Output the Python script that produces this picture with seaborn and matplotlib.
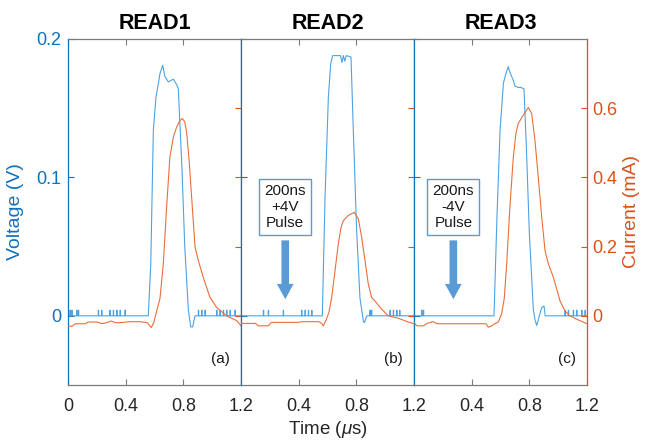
import matplotlib
matplotlib.use("Agg")
import matplotlib.pyplot as plt
import seaborn as sns

sns.set_theme(style="white")
plt.rcParams['font.family'] = ['Liberation Sans', 'DejaVu Sans']
plt.rcParams['mathtext.fontset'] = 'custom'
plt.rcParams['mathtext.it'] = 'Liberation Sans:italic'

# ---- data ---------------------------------------------------------------
panel_titles = ["READ1", "READ2", "READ3"]
panel_tags = ["(a)", "(b)", "(c)"]

# READ1
v1_t = [0, 0.557, 0.574, 0.592, 0.61, 0.627, 0.638, 0.657, 0.672, 0.696, 0.731, 0.754, 0.765,
        0.789, 0.81, 0.835, 0.851, 0.865, 0.881, 1.2]
v1_v = [0, 0, 0.037, 0.134, 0.158, 0.168, 0.175, 0.181, 0.173, 0.169, 0.171, 0.167, 0.164,
        0.11, 0.05, 0.004, -0.008, -0.008, 0, 0]
v1_blips = [0.014, 0.026, 0.06, 0.072, 0.21, 0.233, 0.29, 0.314, 0.338, 0.361, 0.395,
            0.904, 0.927, 0.95, 1.031, 1.054, 1.077, 1.1, 1.124, 1.158]
i1_t = [0, 0.03, 0.05, 0.12, 0.14, 0.2, 0.23, 0.25, 0.3, 0.33, 0.36, 0.43, 0.5, 0.55, 0.578,
        0.595, 0.615, 0.638, 0.661, 0.685, 0.707, 0.731, 0.754, 0.777, 0.795, 0.81, 0.823,
        0.84, 0.858, 0.881, 0.904, 0.939, 0.985, 1.031, 1.1, 1.17, 1.2]
i1_i = [-0.03, -0.03, -0.023, -0.023, -0.018, -0.018, -0.022, -0.022, -0.015, -0.02, -0.02,
        -0.017, -0.017, -0.02, -0.034, -0.02, 0.014, 0.05, 0.15, 0.32, 0.46, 0.517, 0.546,
        0.565, 0.57, 0.56, 0.53, 0.45, 0.34, 0.2, 0.16, 0.11, 0.053, 0.024, 0.0, -0.014, -0.029]

# READ2
v2_t = [0, 0.564, 0.583, 0.606, 0.622, 0.636, 0.69, 0.70, 0.71, 0.72, 0.73, 0.763, 0.779,
        0.802, 0.825, 0.849, 0.856, 0.872, 1.2]
v2_v = [0, 0, 0.086, 0.158, 0.182, 0.188, 0.188, 0.183, 0.188, 0.184, 0.188, 0.187, 0.134,
        0.062, 0.013, -0.004, -0.005, 0, 0]
v2_blips = [0.155, 0.189, 0.293, 0.42, 0.444, 0.467, 0.49, 0.894, 0.905, 1.033, 1.056, 1.08, 1.1]
i2_t = [0, 0.1, 0.12, 0.19, 0.21, 0.40, 0.42, 0.54, 0.56, 0.571, 0.59, 0.61, 0.629, 0.652,
        0.675, 0.694, 0.71, 0.744, 0.786, 0.814, 0.837, 0.86, 0.883, 0.906, 0.929, 0.976,
        1.022, 1.091, 1.16, 1.2]
i2_i = [-0.022, -0.022, -0.029, -0.029, -0.019, -0.019, -0.017, -0.017, -0.022, -0.029,
        -0.012, 0.01, 0.053, 0.13, 0.208, 0.256, 0.275, 0.29, 0.299, 0.28, 0.227, 0.16,
        0.092, 0.053, 0.043, 0.019, 0.0, -0.007, -0.018, -0.023]

# READ3
v3_t = [0, 0.555, 0.575, 0.597, 0.62, 0.64, 0.654, 0.665, 0.689, 0.70, 0.723, 0.74, 0.763,
        0.78, 0.80, 0.828, 0.84, 0.851, 0.862, 0.875, 0.886, 0.902, 0.91, 1.2]
v3_v = [0, 0, 0.07, 0.134, 0.168, 0.176, 0.18, 0.176, 0.17, 0.166, 0.165, 0.165, 0.164,
        0.12, 0.06, 0.004, -0.003, -0.007, -0.003, 0.002, 0.006, 0.007, 0, 0]
v3_blips = [0.053, 0.065, 1.047, 1.07, 1.105, 1.128, 1.163, 1.186]
i3_t = [0, 0.02, 0.065, 0.09, 0.134, 0.16, 0.5, 0.515, 0.535, 0.56, 0.585, 0.608, 0.626,
        0.643, 0.666, 0.689, 0.707, 0.723, 0.758, 0.793, 0.816, 0.839, 0.862, 0.886, 0.909,
        0.932, 0.967, 1.013, 1.047, 1.082, 1.12, 1.151, 1.2]
i3_i = [-0.02, -0.029, -0.029, -0.022, -0.017, -0.023, -0.023, -0.033, -0.03, -0.023,
        -0.018, 0.006, 0.05, 0.15, 0.32, 0.459, 0.527, 0.556, 0.58, 0.602, 0.585, 0.507,
        0.40, 0.285, 0.188, 0.15, 0.111, 0.043, 0.014, 0.0, -0.008, -0.014, -0.023]

blip_height = 0.004
pulse_labels = [None, "200ns\n+4V\nPulse", "200ns\n-4V\nPulse"]
pulse_x = [None, 0.307, 0.273]

voltage_ticks = [0, 0.1, 0.2]
current_ticks = [0, 0.2, 0.4, 0.6]

# ---- styling --------------------------------------------------------------
BLUE = "#0F72BD"
VLINE = "#4DA3E2"
ORANGE = "#D95319"
ILINE = "#EA6E3C"
ARROW = "#5B9BD5"
GRAY = "#7a7a7a"


def add_blips(t, v, blips, h=blip_height, w=0.0025):
    """Overlay the short quantisation blips seen on the flat baseline."""
    pts = list(zip(t, v))
    for b in blips:
        pts += [(b, 0.0), (b + 1e-4, h), (b + w, h), (b + w + 1e-4, 0.0)]
    pts.sort(key=lambda p: p[0])
    return [p[0] for p in pts], [p[1] for p in pts]


volt = [add_blips(v1_t, v1_v, v1_blips), add_blips(v2_t, v2_v, v2_blips),
        add_blips(v3_t, v3_v, v3_blips)]
curr = [(i1_t, i1_i), (i2_t, i2_i), (i3_t, i3_i)]

fig = plt.figure(figsize=(6.49, 4.40), dpi=100)
left, right, bottom, top = 68 / 649, 587 / 649, 1 - 385 / 440, 1 - 39 / 440
w = (right - left) / 3

for k in range(3):
    ax = fig.add_axes([left + k * w, bottom, w, top - bottom])
    ax2 = ax.twinx()

    sns.lineplot(x=volt[k][0], y=volt[k][1], ax=ax, color=VLINE, lw=0.8,
                 estimator=None, sort=False)
    sns.lineplot(x=curr[k][0], y=curr[k][1], ax=ax2, color=ILINE, lw=0.8,
                 estimator=None, sort=False)

    ax.set_xlim(0, 1.2)
    ax.set_ylim(-0.05, 0.2)
    ax2.set_ylim(-0.2, 0.8)

    ax.set_xticks([0, 0.4, 0.8, 1.2] if k == 0 else [0.4, 0.8, 1.2])
    ax.set_xticklabels(["0", "0.4", "0.8", "1.2"] if k == 0 else ["0.4", "0.8", "1.2"])
    ax.set_yticks(voltage_ticks)
    ax.set_yticklabels(["0", "0.1", "0.2"])
    ax2.set_yticks(current_ticks)
    ax2.set_yticklabels(["0", "0.2", "0.4", "0.6"])

    ax.tick_params(axis="x", direction="in", length=4, width=0.8, color=GRAY,
                   top=True, bottom=True, labelsize=13, labelcolor="#262626", pad=9)
    ax.tick_params(axis="y", direction="in", length=4, width=0.8, color=BLUE,
                   labelsize=13, labelcolor=BLUE, pad=5, labelleft=(k == 0))
    ax2.tick_params(axis="y", direction="in", length=4, width=0.8, color=ORANGE,
                    labelsize=13, labelcolor=ORANGE, pad=4, labelright=(k == 2))

    for s in ax2.spines.values():
        s.set_visible(False)
    ax.spines["top"].set_color(GRAY)
    ax.spines["bottom"].set_color(GRAY)
    ax.spines["left"].set_color(BLUE)
    ax.spines["right"].set_color(ORANGE if k == 2 else BLUE)
    for s in ax.spines.values():
        s.set_linewidth(0.9)
        s.set_visible(True)

    ax.set_xlabel("")
    ax.set_ylabel("")
    ax2.set_ylabel("")
    ax.set_title(panel_titles[k], fontsize=15.5, fontweight="bold", pad=7, color="black")
    ax.text(1.06, -0.031, panel_tags[k], ha="center", va="center", fontsize=11, color="#1a1a1a")

    if pulse_labels[k]:
        ax.text(pulse_x[k], 0.0786, pulse_labels[k], ha="center", va="center",
                fontsize=11, color="#1a1a1a", linespacing=1.15,
                bbox=dict(boxstyle="square,pad=0.35", fc="white", ec=ARROW, lw=1.0))
        ax.annotate("", xy=(pulse_x[k], 0.012), xytext=(pulse_x[k], 0.0545),
                    arrowprops=dict(arrowstyle="simple,head_width=1.2,head_length=1.1,tail_width=0.55",
                                    color=ARROW, lw=0, mutation_scale=10, shrinkA=0, shrinkB=0))

    if k == 0:
        ax.set_ylabel("Voltage (V)", fontsize=14, color=BLUE, labelpad=9)
    if k == 1:
        ax.set_xlabel(r"Time ($\mu$s)", fontsize=13.5, color="#262626", labelpad=3)
    if k == 2:
        ax2.set_ylabel("Current (mA)", fontsize=14, color=ORANGE, labelpad=4)

fig.savefig("out.png", dpi=100)
